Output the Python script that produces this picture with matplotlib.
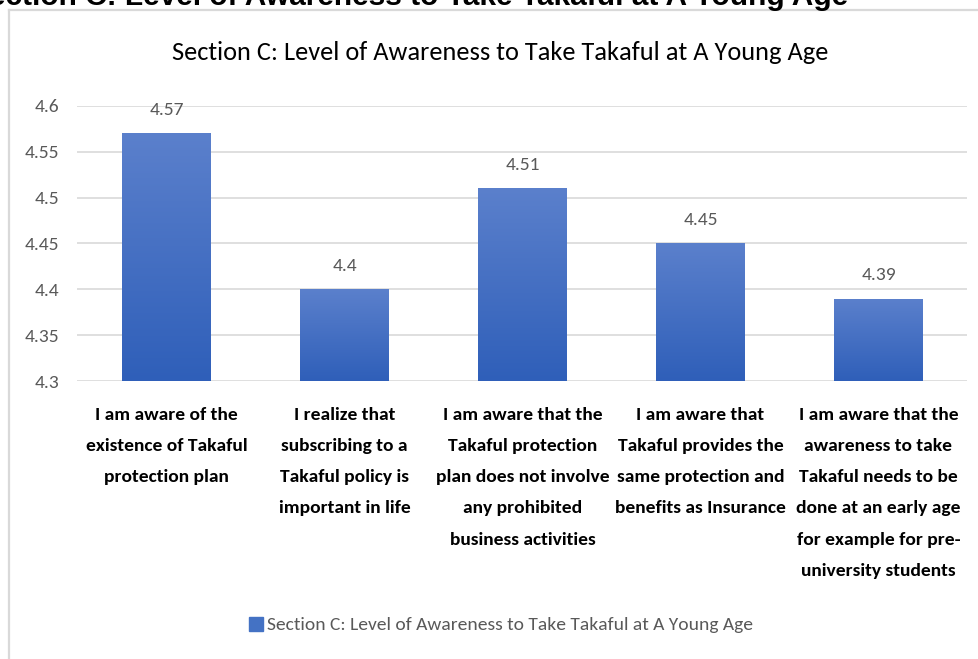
import matplotlib.pyplot as plt
import numpy as np
from matplotlib.lines import Line2D
from matplotlib.colors import LinearSegmentedColormap

# data
categories = [
    "I am aware of the\nexistence of Takaful\nprotection plan",
    "I realize that\nsubscribing to a\nTakaful policy is\nimportant in life",
    "I am aware that the\nTakaful protection\nplan does not involve\nany prohibited\nbusiness activities",
    "I am aware that\nTakaful provides the\nsame protection and\nbenefits as Insurance",
    "I am aware that the\nawareness to take\nTakaful needs to be\ndone at an early age\nfor example for pre-\nuniversity students",
]
values = [4.57, 4.4, 4.51, 4.45, 4.39]
value_labels = ["4.57", "4.4", "4.51", "4.45", "4.39"]
yticks = [4.3, 4.35, 4.4, 4.45, 4.5, 4.55, 4.6]
ytick_labels = ["4.3", "4.35", "4.4", "4.45", "4.5", "4.55", "4.6"]
title = "Section C: Level of Awareness to Take Takaful at A Young Age"

cal = ["Carlito", "DejaVu Sans"]
W, H = 979, 659
fig = plt.figure(figsize=(W / 100, H / 100), dpi=100)
ax = fig.add_axes([77.5 / W, 1 - 381 / H, 890 / W, 275 / H])

# cut-off heading of the page above the chart
fig.text(848 / W, 1 - 5 / H, title, ha="right", va="baseline",
         fontsize=21.5, fontweight="bold", family=["Liberation Sans", "DejaVu Sans"])

# chart border (only left and top edges are visible)
fig.add_artist(Line2D([9 / W, 9 / W], [0, 1 - 10 / H], transform=fig.transFigure,
                      color="#d9d9d9", lw=1.6))
fig.add_artist(Line2D([9 / W, 1], [1 - 10 / H, 1 - 10 / H], transform=fig.transFigure,
                      color="#d9d9d9", lw=1.6))

x = np.arange(len(values))
bars = ax.bar(x, [v - 4.3 for v in values], bottom=4.3, width=0.5, color="#4472c4", zorder=2)

# vertical gradient fill
cmap = LinearSegmentedColormap.from_list("g", ["#2f5fb9", "#5b80cc"])
grad = np.linspace(0, 1, 256).reshape(-1, 1)
for b in bars:
    bx, by, bw, bh = b.get_x(), b.get_y(), b.get_width(), b.get_height()
    im = ax.imshow(grad, cmap=cmap, aspect="auto", origin="lower",
                   extent=[bx, bx + bw, by, by + bh], zorder=3)
    im.set_clip_path(b)

for b, lab in zip(bars, value_labels):
    ax.annotate(lab, (b.get_x() + b.get_width() / 2, b.get_y() + b.get_height()),
                xytext=(0, 11), textcoords="offset points", ha="center", va="bottom",
                fontsize=14, color="#595959", family=cal)

ax.set_xlim(-0.5, len(values) - 0.5)
ax.set_ylim(4.3, 4.6)
ax.set_yticks(yticks)
ax.set_yticklabels(ytick_labels, fontsize=14, color="#595959", family=cal)
ax.set_xticks(x)
ax.set_xticklabels(categories, fontsize=14, fontweight="bold", color="black",
                   family=cal, linespacing=2.17, va="top")
ax.tick_params(axis="both", length=0)
ax.tick_params(axis="y", pad=13)
ax.tick_params(axis="x", pad=18.5)
ax.grid(axis="y", color="#d9d9d9", lw=1.2, zorder=0)
ax.set_axisbelow(True)
for s in ax.spines.values():
    s.set_visible(False)

fig.text(500.5 / W, 1 - 52 / H, title, ha="center", va="center",
         fontsize=19, color="black", family=cal)

# legend
handle = plt.Rectangle((0, 0), 1, 1, color="#4472c4")
fig.legend([handle], [title], loc="center", bbox_to_anchor=(501 / W, 1 - 625 / H),
           frameon=False, prop={"family": cal, "size": 14}, labelcolor="#595959",
           handlelength=0.75, handleheight=0.75, handletextpad=0.2)

fig.savefig("out.png", dpi=100)
